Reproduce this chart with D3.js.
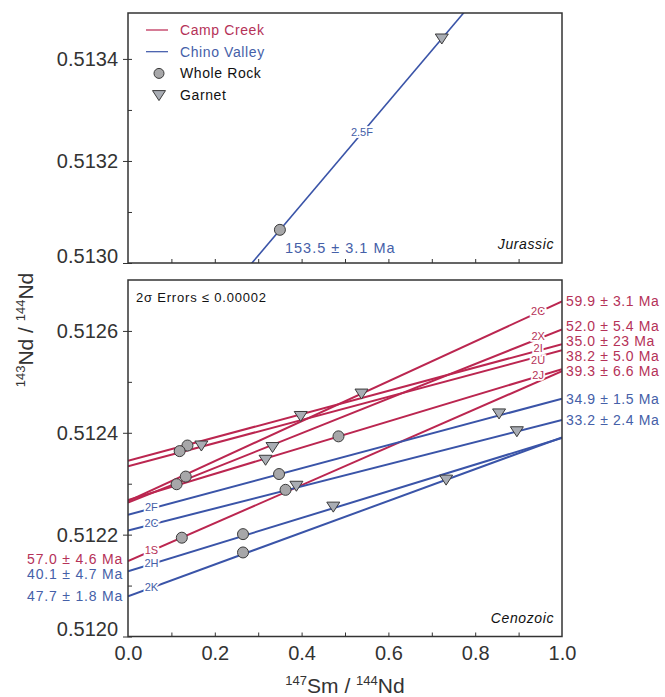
<!DOCTYPE html>
<html>
<head>
<meta charset="utf-8">
<script src="https://cdn.jsdelivr.net/npm/d3@7"></script>
<style>
body { margin: 0; background: #fff; }
text { font-family: "Liberation Sans", Arial, Helvetica, sans-serif; }
</style>
</head>
<body>
<script>
// isochrons, one entry per sample
const lineNames = ['2.5F', '2C', '2X', '2I', '2U', '2J', '1S', '2F', '2C', '2H', '2K'];
const lineSuites = ['Chino Valley', 'Camp Creek', 'Camp Creek', 'Camp Creek', 'Camp Creek', 'Camp Creek',
                    'Camp Creek', 'Chino Valley', 'Chino Valley', 'Chino Valley', 'Chino Valley'];
const linePeriods = ['Jurassic', 'Cenozoic', 'Cenozoic', 'Cenozoic', 'Cenozoic', 'Cenozoic',
                     'Cenozoic', 'Cenozoic', 'Cenozoic', 'Cenozoic', 'Cenozoic'];
// 143Nd/144Nd of the isochron at 147Sm/144Nd = 0 and = 1
const lineStart = [0.512713, 0.512266, 0.512263, 0.512345, 0.512334, 0.512268, 0.512148, 0.512239, 0.512208, 0.512128, 0.512079];
const lineEnd   = [0.513718, 0.512658, 0.512603, 0.512574, 0.512562, 0.512525, 0.512521, 0.512467, 0.512425, 0.512390, 0.512391];
const lineAges = ['153.5 ± 3.1 Ma', '59.9 ± 3.1 Ma', '52.0 ± 5.4 Ma', '35.0 ± 23 Ma', '38.2 ± 5.0 Ma', '39.3 ± 6.6 Ma',
                  '57.0 ± 4.6 Ma', '34.9 ± 1.5 Ma', '33.2 ± 2.4 Ma', '40.1 ± 4.7 Ma', '47.7 ± 1.8 Ma'];
const ageSide  = ['inside', 'right', 'right', 'right', 'right', 'right', 'left', 'right', 'right', 'left', 'left'];
const nameSide = ['middle', 'right', 'right', 'right', 'right', 'right', 'left', 'left', 'left', 'left', 'left'];

// whole rock analyses (index of isochron, 147Sm/144Nd, 143Nd/144Nd)
const wrLine = [0, 1, 2, 3, 4, 5, 6, 7, 8, 9, 10];
const wrSm = [0.350, 0.133, 0.112, 0.137, 0.119, 0.485, 0.124, 0.348, 0.363, 0.265, 0.265];
const wrNd = [0.513065, 0.512314, 0.512299, 0.512375, 0.512364, 0.512393, 0.512194, 0.512319, 0.512288, 0.512201, 0.512165];

// garnet analyses
const grtLine = [0, 1, 2, 3, 4, 5, 6, 7, 8, 9, 10];
const grtSm = [0.723, 0.538, 0.333, 0.398, 0.169, 0.317, 0.388, 0.855, 0.896, 0.473, 0.733];
const grtNd = [0.513440, 0.512477, 0.512372, 0.512433, 0.512375, 0.512347, 0.512296, 0.512438, 0.512403, 0.512255, 0.512308];

// axes
const xTicks = [0.0, 0.2, 0.4, 0.6, 0.8, 1.0];
const topYTicks = [0.5130, 0.5132, 0.5134];
const bottomYTicks = [0.5120, 0.5122, 0.5124, 0.5126];
const legendLabels = ['Camp Creek', 'Chino Valley', 'Whole Rock', 'Garnet'];

const width = 665;
const height = 697;
const red = '#bb2650';
const blue = '#3a54a8';
const redText = '#b53258';
const blueText = '#4560a8';

function suiteColour(i) {
    return lineSuites[i] == 'Camp Creek' ? red : blue;
}
function suiteText(i) {
    return lineSuites[i] == 'Camp Creek' ? redText : blueText;
}

// push labels apart so they do not overlap
function spread(items, gap) {
    items.sort((a, b) => a.y - b.y);
    for (let k = 0; k < 60; k++) {
        for (let i = 1; i < items.length; i++) {
            let d = items[i].y - items[i - 1].y;
            if (d < gap) {
                let s = (gap - d) / 2;
                items[i - 1].y -= s;
                items[i].y += s;
            }
        }
    }
    return items;
}

function lineAt(i, xv) {
    return lineStart[i] + (lineEnd[i] - lineStart[i]) * xv;
}

const triPath = 'M-6.5,-4.5L6.5,-4.5L0,5.5Z';

let svg = d3.select('body')
    .append('svg')
    .attr('width', width)
    .attr('height', height);

const xScale = d3.scaleLinear().domain([0, 1]).range([128, 562]);

const panels = [
    {period: 'Jurassic', top: 13, bottom: 263, domain: [0.5130, 0.51349], ticks: topYTicks},
    {period: 'Cenozoic', top: 280, bottom: 636.5, domain: [0.5120, 0.51270], ticks: bottomYTicks}
];

panels.forEach(function(p, pi) {
    const yScale = d3.scaleLinear().domain(p.domain).range([p.bottom, p.top]);
    let g = svg.append('g');

    svg.append('clipPath').attr('id', 'clip' + pi)
        .append('rect')
        .attr('x', xScale(0)).attr('y', p.top)
        .attr('width', xScale(1) - xScale(0)).attr('height', p.bottom - p.top);

    // y axis, labelled ticks outward
    let ya = g.append('g')
        .attr('transform', `translate(${xScale(0)}, 0)`)
        .call(d3.axisLeft(yScale).tickValues(p.ticks).tickSize(5).tickPadding(5).tickFormat(d3.format('.4f')));
    ya.select('.domain').remove();
    ya.selectAll('line').attr('stroke', '#333');
    ya.selectAll('text')
        .style('font-size', '20px')
        .attr('fill', '#333')
        .attr('dy', (d) => d == p.domain[0] ? '-0.05em' : '0.35em');

    // minor ticks inward
    let minor = d3.range(p.domain[0], p.domain[1] - 0.00002, 0.0001);
    let ym = g.append('g')
        .attr('transform', `translate(${xScale(0)}, 0)`)
        .call(d3.axisRight(yScale).tickValues(minor).tickSize(4).tickFormat(''));
    ym.select('.domain').remove();
    ym.selectAll('line').attr('stroke', '#333');

    // x ticks inward
    let xm = g.append('g')
        .attr('transform', `translate(0, ${p.bottom})`)
        .call(d3.axisTop(xScale).tickValues(d3.range(0.1, 0.95, 0.1)).tickSize(4).tickFormat(''));
    xm.select('.domain').remove();
    xm.selectAll('line').attr('stroke', '#333');

    if (pi == 1) {
        let xa = g.append('g')
            .attr('transform', `translate(0, ${p.bottom})`)
            .call(d3.axisBottom(xScale).tickValues(xTicks).tickSize(0).tickPadding(9).tickFormat(d3.format('.1f')));
        xa.select('.domain').remove();
        xa.selectAll('text').style('font-size', '20px').attr('fill', '#333');
    }

    let idx = d3.range(lineNames.length).filter((i) => linePeriods[i] == p.period);

    // isochron lines
    g.append('g')
        .attr('clip-path', `url(#clip${pi})`)
        .selectAll('line')
        .data(idx)
        .enter()
        .append('line')
            .attr('x1', xScale(0))
            .attr('y1', (i) => yScale(lineStart[i]))
            .attr('x2', xScale(1))
            .attr('y2', (i) => yScale(lineEnd[i]))
            .attr('stroke', (i) => suiteColour(i))
            .attr('stroke-width', pi == 0 ? 1.6 : 2);

    // sample names on the lines
    let names = [];
    idx.forEach(function(i) {
        let xv = nameSide[i] == 'right' ? 0.945 : (nameSide[i] == 'left' ? 0.054 : 0.539);
        names.push({i: i, x: xScale(xv), y: yScale(lineAt(i, xv)) - 1, side: nameSide[i]});
    });
    spread(names.filter((d) => d.side == 'right'), 12);
    g.append('g').selectAll('text')
        .data(names)
        .enter()
        .append('text')
            .attr('x', (d) => d.x)
            .attr('y', (d) => d.y)
            .attr('dy', '0.35em')
            .attr('text-anchor', 'middle')
            .attr('fill', (d) => suiteText(d.i))
            .attr('stroke', '#fff')
            .attr('stroke-width', 3.5)
            .attr('paint-order', 'stroke')
            .style('font-size', '11px')
            .text((d) => lineNames[d.i]);

    // whole rock
    let wr = d3.range(wrLine.length).filter((k) => linePeriods[wrLine[k]] == p.period);
    g.append('g').selectAll('circle')
        .data(wr)
        .enter()
        .append('circle')
            .attr('cx', (k) => xScale(wrSm[k]))
            .attr('cy', (k) => yScale(wrNd[k]))
            .attr('r', 5.5)
            .attr('fill', '#a7a7a9')
            .attr('stroke', '#3a3a3a')
            .attr('stroke-width', 1);

    // garnet
    let grt = d3.range(grtLine.length).filter((k) => linePeriods[grtLine[k]] == p.period);
    g.append('g').selectAll('path')
        .data(grt)
        .enter()
        .append('path')
            .attr('d', triPath)
            .attr('transform', (k) => `translate(${xScale(grtSm[k])}, ${yScale(grtNd[k])})`)
            .attr('fill', '#a9adb4')
            .attr('stroke', '#3a3a3a')
            .attr('stroke-width', 1);

    // ages
    let right = spread(idx.filter((i) => ageSide[i] == 'right').map((i) => ({i: i, y: yScale(lineEnd[i])})), 15);
    let left = spread(idx.filter((i) => ageSide[i] == 'left').map((i) => ({i: i, y: yScale(lineStart[i])})), 15);
    g.append('g').selectAll('text')
        .data(right)
        .enter()
        .append('text')
            .attr('x', xScale(1) + 4)
            .attr('y', (d) => d.y)
            .attr('dy', '0.35em')
            .attr('fill', (d) => suiteText(d.i))
            .style('font-size', '14px')
            .style('letter-spacing', '0.6px')
            .text((d) => lineAges[d.i]);
    g.append('g').selectAll('text')
        .data(left)
        .enter()
        .append('text')
            .attr('x', xScale(0) - 5)
            .attr('y', (d) => d.y)
            .attr('dy', '0.35em')
            .attr('text-anchor', 'end')
            .attr('fill', (d) => suiteText(d.i))
            .style('font-size', '14px')
            .style('letter-spacing', '0.8px')
            .text((d) => lineAges[d.i]);
    idx.filter((i) => ageSide[i] == 'inside').forEach(function(i) {
        let xc = (p.domain[0] - lineStart[i]) / (lineEnd[i] - lineStart[i]);
        g.append('text')
            .attr('x', xScale(xc) + 33)
            .attr('y', p.bottom - 10)
            .attr('fill', suiteText(i))
            .style('font-size', '14.5px')
            .style('letter-spacing', '1px')
            .text(lineAges[i]);
    });

    // frame
    g.append('rect')
        .attr('x', xScale(0)).attr('y', p.top)
        .attr('width', xScale(1) - xScale(0)).attr('height', p.bottom - p.top)
        .attr('fill', 'none')
        .attr('stroke', '#333')
        .attr('stroke-width', 1.5);

    g.append('text')
        .attr('x', xScale(1) - 8)
        .attr('y', p.bottom - 14)
        .attr('text-anchor', 'end')
        .style('font-size', '14px')
        .style('font-style', 'italic')
        .style('letter-spacing', '0.6px')
        .attr('fill', '#111')
        .text(p.period);
});

// error note
svg.append('text')
    .attr('x', 136)
    .attr('y', 302)
    .style('font-size', '13px')
    .style('letter-spacing', '0.8px')
    .attr('fill', '#111')
    .text('2σ Errors ≤ 0.00002');

// legend
let legend = svg.append('g').attr('transform', 'translate(146, 30)');
legendLabels.forEach(function(label, i) {
    let ly = i * 21.7;
    let row = legend.append('g').attr('transform', `translate(0, ${ly})`);
    if (i < 2) {
        row.append('line')
            .attr('x1', 0).attr('x2', 22)
            .attr('stroke', i == 0 ? red : blue)
            .attr('stroke-width', 1.2);
    } else if (i == 2) {
        row.append('circle').attr('cx', 13).attr('r', 5).attr('fill', '#a7a7a9').attr('stroke', '#3a3a3a');
    } else {
        row.append('path').attr('d', triPath).attr('transform', 'translate(13, 0)').attr('fill', '#a9adb4').attr('stroke', '#3a3a3a');
    }
    row.append('text')
        .attr('x', 34)
        .attr('dy', '0.35em')
        .attr('fill', i == 0 ? redText : (i == 1 ? blueText : '#111'))
        .style('font-size', '14px')
        .style('letter-spacing', '0.6px')
        .text(label);
});

// axis titles
let xt = svg.append('text')
    .attr('x', 345)
    .attr('y', 693)
    .attr('text-anchor', 'middle')
    .attr('fill', '#333')
    .style('font-size', '21px');
xt.append('tspan').style('font-size', '13px').attr('dy', -8).text('147');
xt.append('tspan').attr('dy', 8).text('Sm / ');
xt.append('tspan').style('font-size', '13px').attr('dy', -8).text('144');
xt.append('tspan').attr('dy', 8).text('Nd');

let yt = svg.append('text')
    .attr('transform', 'translate(33, 330) rotate(-90)')
    .attr('text-anchor', 'middle')
    .attr('fill', '#333')
    .style('font-size', '21px');
yt.append('tspan').style('font-size', '13px').attr('dy', -8).text('143');
yt.append('tspan').attr('dy', 8).text('Nd / ');
yt.append('tspan').style('font-size', '13px').attr('dy', -8).text('144');
yt.append('tspan').attr('dy', 8).text('Nd');
</script>
</body>
</html>
